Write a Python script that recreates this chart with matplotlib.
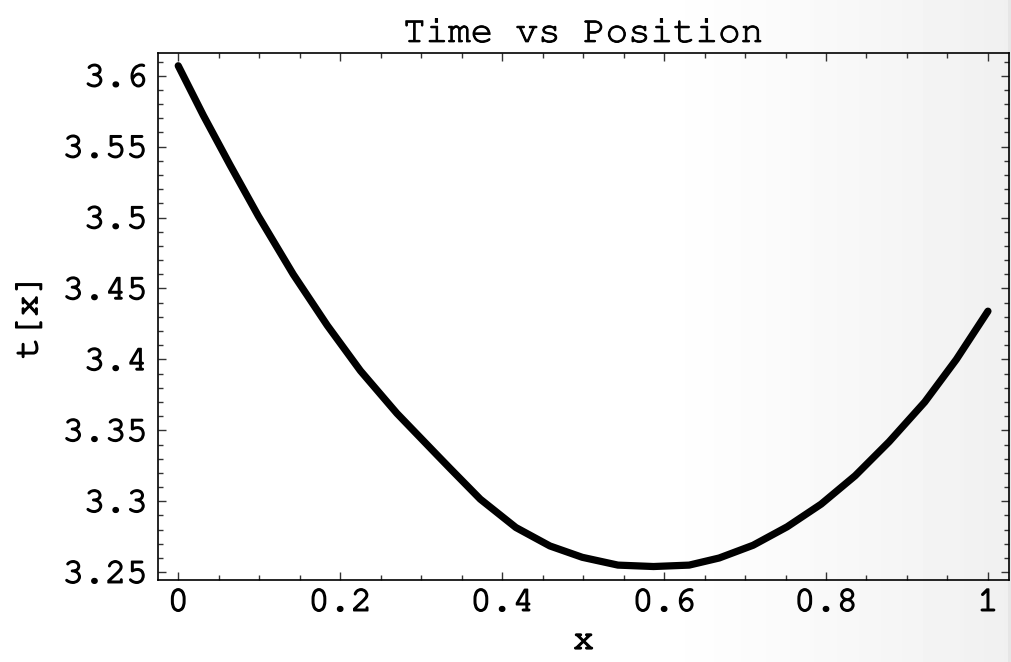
import numpy as np
import matplotlib
matplotlib.use("Agg")
import matplotlib.pyplot as plt
import matplotlib.patheffects as pe
from matplotlib.ticker import MultipleLocator

# curve
x_vals = [0.0, 0.031, 0.064, 0.099, 0.142, 0.184, 0.225, 0.270, 0.319, 0.336,
          0.373, 0.417, 0.459, 0.499, 0.543, 0.587, 0.631, 0.668, 0.710, 0.752,
          0.794, 0.836, 0.878, 0.922, 0.961, 1.0]
t_vals = [3.607, 3.572, 3.537, 3.501, 3.460, 3.424, 3.392, 3.362, 3.333, 3.323,
          3.3015, 3.2815, 3.2685, 3.2605, 3.255, 3.254, 3.255, 3.260, 3.269, 3.282,
          3.298, 3.318, 3.342, 3.370, 3.400, 3.434]

x_ticks = [0, 0.2, 0.4, 0.6, 0.8, 1.0]
x_ticklabels = ["0", "0.2", "0.4", "0.6", "0.8", "1"]
y_ticks = [3.25, 3.3, 3.35, 3.4, 3.45, 3.5, 3.55, 3.6]
y_ticklabels = ["3.25", "3.3", "3.35", "3.4", "3.45", "3.5", "3.55", "3.6"]

plt.rcParams['font.family'] = ['Courier New', 'Nimbus Mono PS', 'FreeMono',
                               'Liberation Mono', 'DejaVu Sans Mono']

fig = plt.figure(figsize=(10.12, 6.62), dpi=100)

# soft grey shading towards the right edge
bg = fig.add_axes([0, 0, 1, 1], zorder=-10)
cols = np.linspace(0, 1, 1012)
shade = np.clip((cols - 0.64) / 0.36, 0, 1) ** 1.2
grey = 1.0 - 0.06 * shade
grey[-4:] = 0.9
bg.imshow(np.tile(grey, (10, 1)), cmap='gray', vmin=0, vmax=1,
          aspect='auto', extent=[0, 1, 0, 1], interpolation='nearest')
bg.axis('off')

ax = fig.add_axes([158 / 1012, 1 - 580 / 662, 851 / 1012, 527 / 662])
ax.set_facecolor('none')

ax.plot(x_vals, t_vals, color='black', linewidth=5.2,
        solid_capstyle='round', solid_joinstyle='round')

ax.set_xlim(-0.025, 1.026)
ax.set_ylim(3.2445, 3.616)

ax.set_xticks(x_ticks)
ax.set_xticklabels(x_ticklabels)
ax.set_yticks(y_ticks)
ax.set_yticklabels(y_ticklabels)
ax.xaxis.set_minor_locator(MultipleLocator(0.05))
ax.yaxis.set_minor_locator(MultipleLocator(0.01))

ax.tick_params(which='both', direction='in', top=True, right=True,
               labelsize=25.5, width=1.0, color='#333333')
ax.tick_params(which='major', length=6)
ax.tick_params(which='minor', length=3.5)
ax.tick_params(axis='x', which='major', pad=7)
ax.tick_params(axis='y', which='major', pad=7.5)
for s in ax.spines.values():
    s.set_linewidth(1.2)

thick = [pe.withStroke(linewidth=1.1, foreground='black')]
for lab in ax.get_xticklabels() + ax.get_yticklabels():
    lab.set_path_effects(thick)

ax.set_title("Time vs Position", fontsize=27, pad=8,
             path_effects=[pe.withStroke(linewidth=0.7, foreground='black')])
ax.set_xlabel("x", fontsize=25.5, labelpad=8, path_effects=thick)
ax.set_ylabel("t[x]", fontsize=25.5, labelpad=14, path_effects=thick)

fig.savefig("out.png", dpi=100)
